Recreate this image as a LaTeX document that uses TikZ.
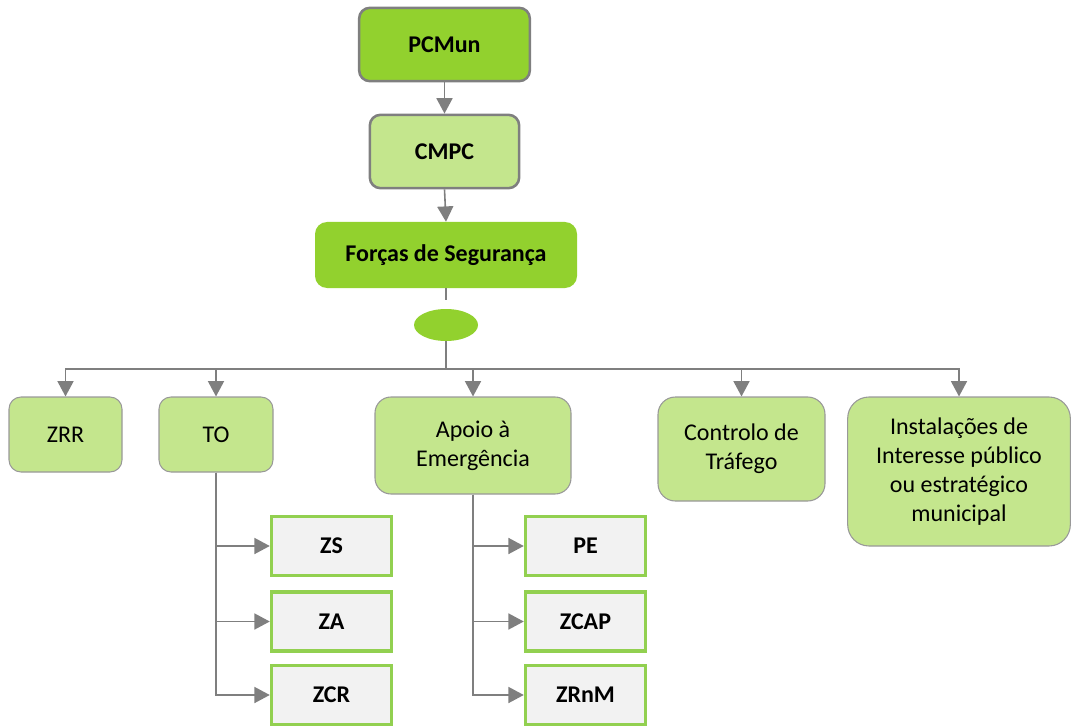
\documentclass[tikz,border=0pt]{standalone}
\usepackage{fontspec}
\setmainfont{Carlito}
\usetikzlibrary{arrows.meta,shapes.geometric}
\definecolor{dgreen}{HTML}{92D12E}
\definecolor{lgreen}{HTML}{C4E68D}
\definecolor{lgray}{HTML}{7F7F7F}
\definecolor{subfill}{HTML}{F2F2F2}
\definecolor{subedge}{HTML}{92D050}
\tikzset{
  every node/.style={font=\fontsize{18}{21.6}\selectfont, align=center, inner sep=2pt},
  topbox/.style={rectangle, rounded corners=8pt, draw=lgray, line width=1.9pt},
  midbox/.style={rectangle, rounded corners=9pt, fill=lgreen, draw=lgray!80, line width=0.8pt},
  subbox/.style={rectangle, fill=subfill, draw=subedge, line width=2.6pt, minimum width=90pt, minimum height=44.25pt, font=\fontsize{18}{21.6}\selectfont\bfseries},
  conn/.style={draw=lgray, line width=1.2pt},
  arr/.style={conn, -{Triangle[width=12pt,length=11.5pt]}, fill=none},
}
\begin{document}
\begin{tikzpicture}[x=0.75pt,y=-0.75pt]
\useasboundingbox (0,0) rectangle (1073,727);
\node[topbox, fill=dgreen, minimum width=128pt, minimum height=55pt, font=\fontsize{18}{21.6}\selectfont\bfseries] (pcmun) at (444.5,44.5) {PCMun};
\node[topbox, fill=lgreen, minimum width=112pt, minimum height=55pt, font=\fontsize{18}{21.6}\selectfont\bfseries] (cmpc) at (444.5,151.5) {CMPC};
\node[rectangle, rounded corners=9pt, fill=dgreen, minimum width=196.5pt, minimum height=49.5pt, font=\fontsize{18}{21.6}\selectfont\bfseries] (forcas) at (446,255) {Forças de Segurança};
\node[ellipse, fill=dgreen, minimum width=48pt, minimum height=24pt, inner sep=0pt] (ell) at (446,325) {};
\coordinate (stub) at (446,300);
\coordinate (bus) at (446,369);

\node[midbox, minimum width=84.75pt, minimum height=56.25pt] (zrr) at (65.5,434.5) {ZRR};
\node[midbox, minimum width=85.5pt, minimum height=56.25pt] (to) at (216,434.5) {TO};
\node[midbox, rounded corners=12pt, minimum width=147pt, minimum height=72.75pt] (apoio) at (473,445.5) {Apoio à\\Emergência};
\node[midbox, rounded corners=13pt, minimum width=125.25pt, minimum height=78pt] (ctrl) at (741.5,449) {Controlo de\\Tráfego};
\node[midbox, rounded corners=16pt, minimum width=167pt, minimum height=111.75pt] (inst) at (959,471.5) {Instalações de\\Interesse público\\ou estratégico\\municipal};

\node[subbox] (zs) at (331.5,546) {ZS};
\node[subbox] (za) at (331.5,621.5) {ZA};
\node[subbox] (zcr) at (331.5,695) {ZCR};
\node[subbox] (pe) at (585.5,546) {PE};
\node[subbox] (zcap) at (585.5,621.5) {ZCAP};
\node[subbox] (zrnm) at (585.5,695) {ZRnM};

\draw[arr] (pcmun.south) -- (cmpc.north);
\draw[arr] (cmpc.south) -- (forcas.north);
\draw[conn] (forcas.south) -- (stub);
\draw[conn] (ell.south) -- (bus);
\draw[arr] (bus) -| (zrr.north);
\draw[arr] (bus) -| (to.north);
\draw[arr] (bus) -| (apoio.north);
\draw[arr] (bus) -| (ctrl.north);
\draw[arr] (bus) -| (inst.north);

\draw[arr] (to.south) |- (zs.west);
\draw[arr] (to.south) |- (za.west);
\draw[arr] (to.south) |- (zcr.west);
\draw[arr] (apoio.south) |- (pe.west);
\draw[arr] (apoio.south) |- (zcap.west);
\draw[arr] (apoio.south) |- (zrnm.west);
\end{tikzpicture}
\end{document}
